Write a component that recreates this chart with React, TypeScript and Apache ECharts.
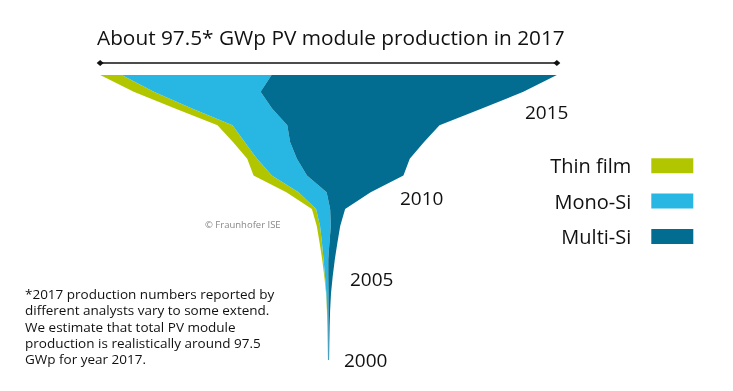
import React, { useEffect, useRef } from "react";
import * as echarts from "echarts";

const years = [2000, 2001, 2002, 2003, 2004, 2005, 2006, 2007, 2008, 2009, 2010, 2011, 2012, 2013, 2014, 2015, 2016, 2017];
const thinFilm = [0.02, 0.02, 0.03, 0.05, 0.08, 0.15, 0.3, 0.5, 0.7, 0.9, 2.6, 3.9, 2.1, 2.5, 3.2, 3.6, 4.3, 4.6];
const monoSi = [0.1, 0.15, 0.2, 0.3, 0.45, 0.7, 1.0, 1.6, 2.3, 3.0, 6.0, 7.5, 8.5, 9.7, 11.7, 17.1, 22.8, 32.0];
const multiSi = [0.13, 0.18, 0.25, 0.35, 0.55, 0.95, 1.4, 1.7, 2.0, 3.2, 9.4, 20.6, 24.1, 28.6, 32.5, 44.8, 56.1, 60.9];
const seriesNames = ["Thin film", "Mono-Si", "Multi-Si"];
const seriesColors = ["#b2c600", "#28b7e2", "#036d91"];
const yearLabels = ["2015", "2010", "2005", "2000"];
const title = "About 97.5* GWp PV module production in 2017";
const footnote = [
  "*2017 production numbers reported by",
  "different analysts vary to some extend.",
  "We estimate that total PV module",
  "production is realistically around 97.5",
  "GWp for year 2017.",
];
const copyright = "© Fraunhofer ISE";

const FONT = "'Open Sans', 'Noto Sans', sans-serif";

export default function App() {
  const ref = useRef<HTMLDivElement>(null);
  useEffect(() => {
    if (!ref.current) return;
    const chart = echarts.init(ref.current, null, { renderer: "svg" });
    const bands = [thinFilm, monoSi, multiSi];
    const totals = years.map((_, i) => thinFilm[i] + monoSi[i] + multiSi[i]);
    const leftOf = (k: number, i: number) => {
      let v = -totals[i] / 2;
      for (let j = 0; j < k; j++) v += bands[j][i];
      return v;
    };
    const bandSeries = bands.map((vals, k) => ({
      type: "custom",
      name: seriesNames[k],
      coordinateSystem: "cartesian2d",
      silent: true,
      itemStyle: { color: seriesColors[k] },
      data: [[0, 2000]],
      renderItem: (_p: any, api: any) => {
        const pts: number[][] = [];
        for (let i = 0; i < years.length; i++) pts.push(api.coord([leftOf(k, i), years[i]]));
        for (let i = years.length - 1; i >= 0; i--) pts.push(api.coord([leftOf(k, i) + vals[i], years[i]]));
        return { type: "polygon", shape: { points: pts }, style: { fill: seriesColors[k] } };
      },
    }));
    const last = years.length - 1;
    const lineSeries = {
      type: "custom",
      name: "span",
      coordinateSystem: "cartesian2d",
      silent: true,
      data: [[0, 2017]],
      renderItem: (_p: any, api: any) => {
        const a = api.coord([-totals[last] / 2, years[last]]);
        const b = api.coord([totals[last] / 2, years[last]]);
        const y = a[1] - 12;
        const d = (x: number) => ({
          type: "polygon",
          shape: { points: [[x - 3.5, y], [x, y - 3], [x + 3.5, y], [x, y + 3]] },
          style: { fill: "#111" },
        });
        return {
          type: "group",
          children: [
            { type: "line", shape: { x1: a[0], y1: y, x2: b[0], y2: y }, style: { stroke: "#111", lineWidth: 1.5 } },
            d(a[0]),
            d(b[0]),
          ],
        };
      },
    };
    const yearPos = [
      [525, 112],
      [400, 197.5],
      [350, 279],
      [344, 360],
    ];
    chart.setOption({
      animation: false,
      grid: { left: 28.5, right: 104.5, top: 75, bottom: 31 },
      xAxis: { type: "value", min: -64.05, max: 64.05, show: false },
      yAxis: { type: "value", min: 2000, max: 2017, show: false },
      legend: {
        data: seriesNames,
        orient: "vertical",
        right: 39.7,
        top: 155.8,
        padding: 0,
        align: "right",
        icon: "rect",
        itemWidth: 42,
        itemHeight: 15,
        itemGap: 15.3,
        selectedMode: false,
        textStyle: { fontSize: 20, color: "#111", fontFamily: FONT, lineHeight: 20, padding: [0, 15, 0, 0] },
      },
      graphic: [
        {
          type: "text",
          left: 97,
          top: 26,
          style: { text: title, fontSize: 20.8, fill: "#111", fontFamily: FONT },
        },
        ...yearLabels.map((t, i) => ({
          type: "text",
          x: yearPos[i][0],
          y: yearPos[i][1],
          style: { text: t, fontSize: 19, fill: "#111", fontFamily: FONT, textVerticalAlign: "middle" },
        })),
        {
          type: "text",
          x: 205,
          y: 224,
          style: { text: copyright, fontSize: 9.5, fill: "#888", fontFamily: FONT, textVerticalAlign: "middle" },
        },
        ...footnote.map((line, i) => ({
          type: "text",
          x: 25,
          y: 294 + i * 16.3,
          style: {
            text: line,
            fontSize: 13.5,
            fill: "#111",
            fontFamily: FONT,
            textVerticalAlign: "middle",
          },
        })),
      ],
      series: [...bandSeries, lineSeries],
    });
    return () => chart.dispose();
  }, []);
  return <div ref={ref} style={{ position: "fixed", left: 0, top: 0, width: 733, height: 391 }} />;
}
